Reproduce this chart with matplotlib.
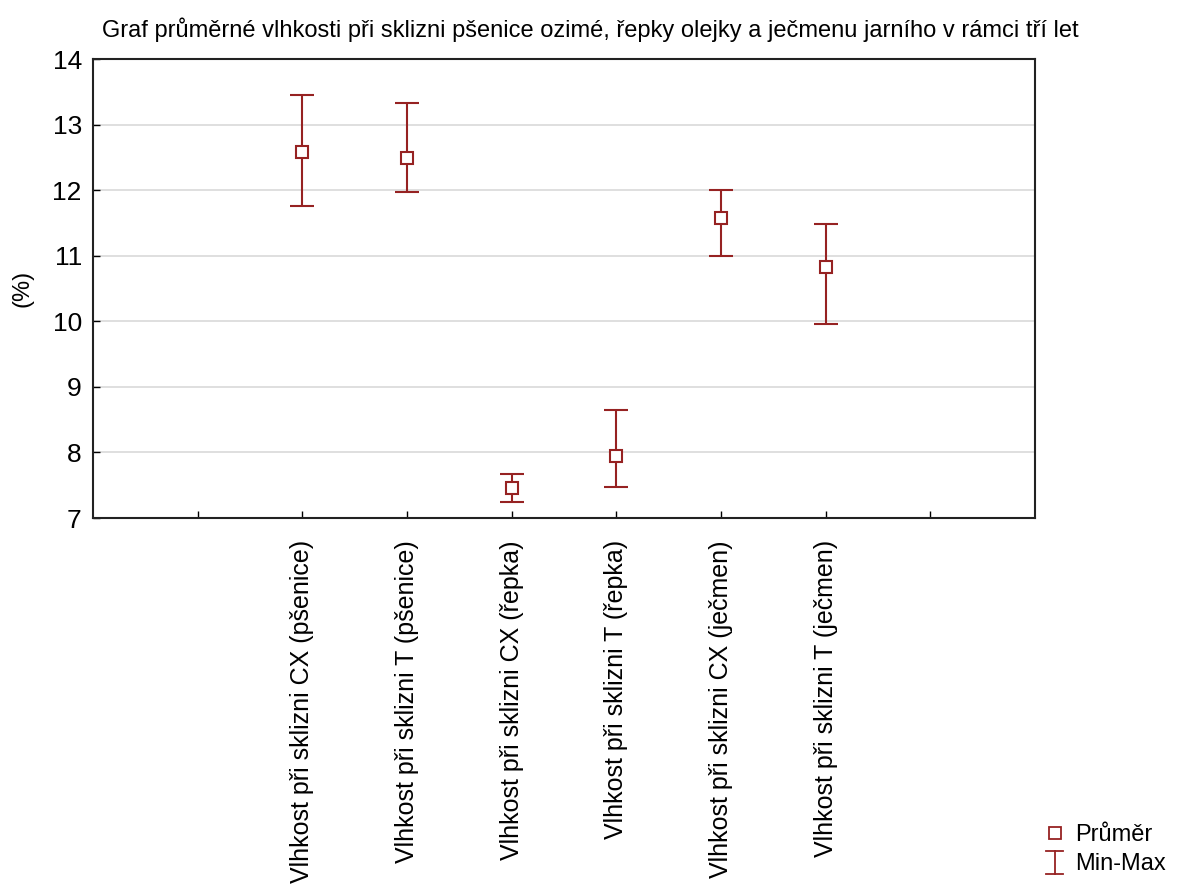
import matplotlib
matplotlib.use("Agg")
import matplotlib.pyplot as plt
from matplotlib.lines import Line2D
from matplotlib.legend_handler import HandlerBase

plt.rcParams['font.family'] = ['Liberation Sans', 'DejaVu Sans']

categories = ["Vlhkost při sklizni CX (pšenice)", "Vlhkost při sklizni T (pšenice)",
              "Vlhkost při sklizni CX (řepka)", "Vlhkost při sklizni T (řepka)",
              "Vlhkost při sklizni CX (ječmen)", "Vlhkost při sklizni T (ječmen)"]
means = [12.58, 12.49, 7.46, 7.95, 11.58, 10.83]
mins = [11.76, 11.97, 7.25, 7.48, 11.00, 9.96]
maxs = [13.45, 13.33, 7.67, 8.65, 12.00, 11.48]
yticks = [7, 8, 9, 10, 11, 12, 13, 14]

color = "#962222"

fig = plt.figure(figsize=(11.81, 8.86), dpi=100)
ax = fig.add_axes([0.0787, 0.4153, 0.7977, 0.5181])

xpos = list(range(2, 2 + len(categories)))
lower = [m - lo for m, lo in zip(means, mins)]
upper = [hi - m for m, hi in zip(means, maxs)]
ax.errorbar(xpos, means, yerr=[lower, upper], fmt='none', ecolor=color,
            elinewidth=1.5, capsize=8.5, capthick=1.5, zorder=3)
ax.plot(xpos, means, linestyle='none', marker='s', markersize=8,
        markerfacecolor='white', markeredgecolor=color, markeredgewidth=1.5, zorder=4)

ax.set_xlim(0, 9)
ax.set_ylim(7, 14)
ax.set_yticks(yticks)
ax.set_yticklabels([str(t) for t in yticks], fontsize=19)
ax.set_xticks(range(1, 9))
ax.set_xticklabels([""] + categories + [""], rotation=90, fontsize=18)
ax.tick_params(axis='both', direction='in', length=5, width=1)
ax.tick_params(axis='x', pad=16)
ax.tick_params(axis='y', pad=8)
ax.yaxis.grid(True, color='#d9d9d9', linewidth=1.2)
ax.set_axisbelow(True)
for s in ax.spines.values():
    s.set_linewidth(1.5)
    s.set_color('#222222')

ax.set_ylabel("(%)", fontsize=17, labelpad=14)
fig.text(0.5, 0.966, "Graf průměrné vlhkosti při sklizni pšenice ozimé, řepky olejky a ječmenu jarního v rámci tří let",
         ha='center', va='center', fontsize=17)


class MinMaxHandler(HandlerBase):
    def create_artists(self, legend, orig_handle, xdescent, ydescent, width, height, fontsize, trans):
        cx = width / 2 - xdescent
        h = height * 1.4
        y0 = height / 2 - h / 2 - ydescent
        y1 = y0 + h
        cw = width * 0.4
        lines = [Line2D([cx, cx], [y0, y1], color=color, lw=1.3),
                 Line2D([cx - cw, cx + cw], [y0, y0], color=color, lw=1.3),
                 Line2D([cx - cw, cx + cw], [y1, y1], color=color, lw=1.3)]
        for l in lines:
            l.set_transform(trans)
        return lines


mean_handle = Line2D([], [], linestyle='none', marker='s', markersize=8,
                     markerfacecolor='white', markeredgecolor=color, markeredgewidth=1.3)
mm_handle = Line2D([], [], color=color)
fig.legend([mean_handle, mm_handle], ["Průměr", "Min-Max"],
           handler_map={mm_handle: MinMaxHandler()},
           loc='lower right', bbox_to_anchor=(1.005, -0.012), frameon=False,
           fontsize=17, handlelength=0.9, handletextpad=0.4, labelspacing=0.3)

fig.savefig("out.png", dpi=100)
